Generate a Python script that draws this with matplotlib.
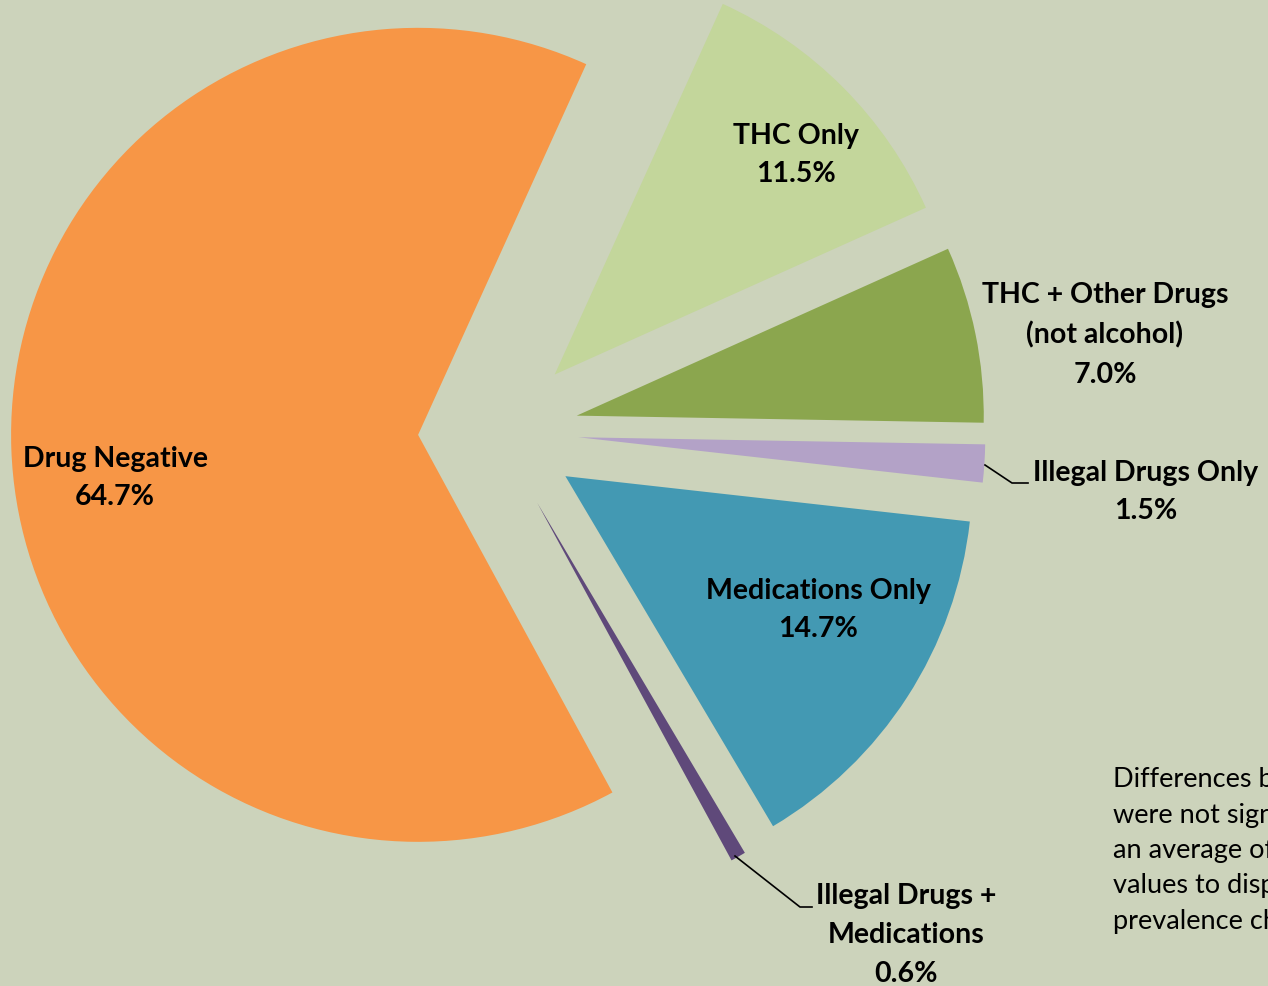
import matplotlib.pyplot as plt

# Share of drivers by drug test result (clockwise from the top)
categories = [
    "THC Only",
    "THC + Other Drugs\n(not alcohol)",
    "Illegal Drugs Only",
    "Medications Only",
    "Illegal Drugs +\nMedications",
    "Drug Negative",
]
shares = [11.5, 7.0, 1.5, 14.7, 0.6, 64.7]
colors = ["#C3D69B", "#8BA64E", "#B3A2C7", "#4399B3", "#5F497A", "#F79646"]

note_lines = [
    "Differences between",
    "were not significant",
    "an average of the",
    "values to display",
    "prevalence chart",
]

BG = "#CCD3BB"
W, H = 1268, 987
R = 407

# label centres in image pixels (x, y from top)
label_pos = [(796, 155), (1105, 335), (1146, 492), (818, 610), (906, 935), (115, 478)]
# leader lines (image pixels) for the two thin slices
leaders = {
    2: [(985, 466), (1012, 484), (1028, 484)],
    4: [(735, 857), (800, 908), (812, 908)],
}

fig = plt.figure(figsize=(W / 100, H / 100), dpi=100, facecolor=BG)
ax = fig.add_axes([0, 0, 1, 1])
ax.set_facecolor(BG)

# explode is in data units, so scale by the radius
ax.pie(
    shares,
    colors=colors,
    startangle=65.6,
    counterclock=False,
    radius=R,
    center=(497, H - 433),
    explode=[0.2 * R] * 5 + [0.194 * R],
    wedgeprops=dict(linewidth=0),
    frame=True,
)
ax.set_xlim(0, W)
ax.set_ylim(0, H)
ax.set_aspect("equal")
ax.axis("off")

for i, (cat, val) in enumerate(zip(categories, shares)):
    x, y = label_pos[i]
    ax.text(x, H - y, f"{cat}\n{val:.1f}%", ha="center", va="center",
            fontsize=20.5, fontweight="bold", family="Lato", color="black",
            linespacing=1.6)

for i, pts in leaders.items():
    ax.plot([p[0] for p in pts], [H - p[1] for p in pts], color="black", lw=1.2)

for k, line in enumerate(note_lines):
    ax.text(1113, H - (780 + k * 35.3), line, ha="left", va="center",
            fontsize=19.5, family="Lato", color="black")

fig.savefig("out.png", dpi=100, facecolor=BG)
